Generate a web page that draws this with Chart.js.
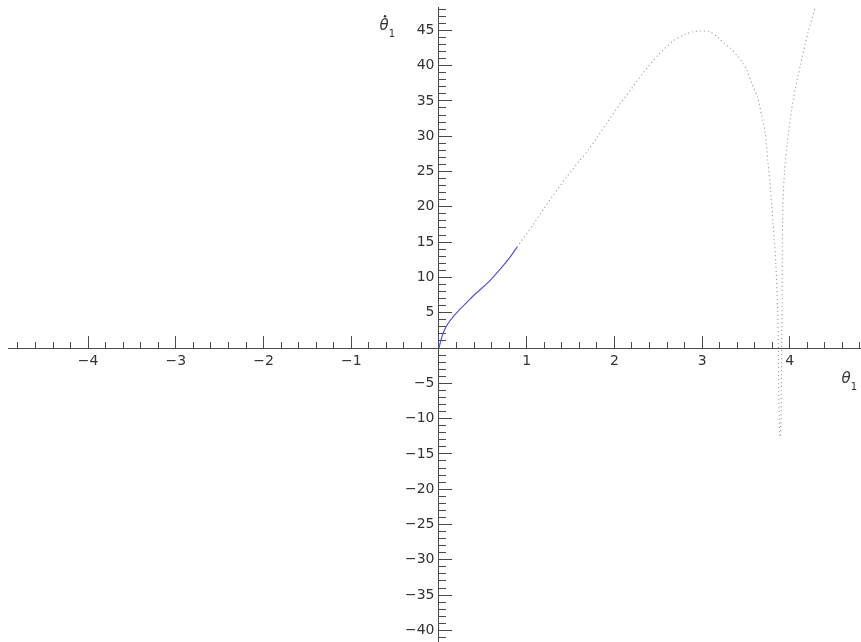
<!DOCTYPE html>
<html>
<head>
<meta charset="utf-8">
<script src="https://cdn.jsdelivr.net/npm/chart.js@4/dist/chart.umd.min.js"></script>
<style>
  html, body { margin: 0; padding: 0; background: #fff; }
  canvas { display: block; }
</style>
</head>
<body>
<canvas id="c" width="861" height="642"></canvas>
<script>
// ---- data (theta_1, theta_1 dot) ----
const blueTheta = [0, 0.02, 0.05, 0.10, 0.16, 0.24, 0.32, 0.40, 0.50, 0.60, 0.70, 0.80, 0.89];
const blueOmega = [0, 1.0, 2.2, 3.4, 4.4, 5.5, 6.5, 7.5, 8.6, 9.8, 11.2, 12.7, 14.3];

const grayTheta = [0.89, 1.00, 1.07, 1.20, 1.30, 1.45, 1.60, 1.70, 1.80, 1.91, 2.06, 2.20, 2.33, 2.50, 2.67, 2.80, 2.90, 3.00, 3.09, 3.18, 3.24, 3.32, 3.40, 3.46, 3.51, 3.57, 3.63, 3.68, 3.72, 3.75, 3.78, 3.81, 3.84, 3.86, 3.87, 3.875, 3.88, 3.89, 3.90, 3.905, 3.91, 3.915, 3.92, 3.94, 3.97, 4.02, 4.06, 4.12, 4.21, 4.29, 4.32];
const grayOmega = [14.3, 16.2, 17.4, 19.8, 21.6, 24.1, 26.5, 28.0, 29.8, 31.8, 34.5, 36.8, 39.0, 41.5, 43.5, 44.4, 44.8, 44.9, 44.8, 44.0, 43.3, 42.5, 41.4, 40.4, 39.4, 37.4, 35.6, 32.9, 30.5, 26.5, 22.5, 17.5, 12.0, 6.0, 0.0, -6.0, -10.0, -12.6, -11.0, -5.0, 3.0, 12.0, 20.0, 25.0, 29.0, 33.7, 36.5, 40.0, 44.8, 48.3, 50.0];

// ---- ticks ----
const xTickValues = [-4, -3, -2, -1, 1, 2, 3, 4];
const yTickValues = [-40, -35, -30, -25, -20, -15, -10, -5, 5, 10, 15, 20, 25, 30, 35, 40, 45];
const xMinorStep = 0.2;
const yMinorStep = 1;

// ---- axis ranges ----
const X_MIN = -4.914, X_MAX = 4.812;
const Y_MIN = -41.64, Y_MAX = 48.3;

const AXIS = '#4a4a4a';
const LABEL = '#333333';
const FONT = { family: 'DejaVu Sans', size: 14 };

const toPts = (xs, ys) => xs.map((v, i) => ({ x: v, y: ys[i] }));
const fmt = v => (v < 0 ? '\u2212' + Math.abs(v) : String(v));
const noPad = s => { s.paddingTop = 0; s.paddingBottom = 0; s.paddingLeft = 0; s.paddingRight = 0; };

const axisTitles = {
  id: 'axisTitles',
  afterDraw(chart) {
    const { ctx } = chart;
    const xs = chart.scales.x, ys = chart.scales.y;
    const ax = xs.getPixelForValue(0), ay = ys.getPixelForValue(0);
    const drawSym = (cx, cy, dot) => {
      ctx.save();
      ctx.fillStyle = LABEL;
      ctx.textBaseline = 'middle';
      ctx.textAlign = 'center';
      ctx.font = 'italic 15px "DejaVu Sans"';
      ctx.fillText('\u03b8', cx, cy);
      ctx.font = '10px "DejaVu Sans"';
      ctx.fillText('1', cx + 8, cy + 8);
      if (dot) {
        ctx.beginPath();
        ctx.arc(cx + 1, cy - 10, 1.2, 0, Math.PI * 2);
        ctx.fill();
      }
      ctx.restore();
    };
    drawSym(ax - 55, ys.getPixelForValue(45) - 4, true);
    drawSym(xs.right - 15, ay + 31, false);
  }
};

new Chart(document.getElementById('c'), {
  type: 'scatter',
  data: {
    datasets: [
      {
        label: 'gray',
        data: toPts(grayTheta, grayOmega),
        showLine: true,
        borderColor: '#a0a0a0',
        borderWidth: 1.1,
        borderDash: [1.2, 2.8],
        pointRadius: 0,
        tension: 0.25,
        order: 2
      },
      {
        label: 'blue',
        data: toPts(blueTheta, blueOmega),
        showLine: true,
        borderColor: '#5555cc',
        borderWidth: 1.2,
        pointRadius: 0,
        tension: 0.3,
        order: 1
      }
    ]
  },
  options: {
    responsive: false,
    animation: false,
    devicePixelRatio: 1,
    layout: { padding: { left: 8, top: 7, right: 0, bottom: 0 } },
    plugins: { legend: { display: false }, tooltip: { enabled: false } },
    scales: {
      x: {
        type: 'linear',
        position: { y: 0 },
        min: X_MIN, max: X_MAX,
        afterBuildTicks: s => { s.ticks = xTickValues.map(v => ({ value: v })); },
        afterFit: noPad,
        grid: { drawOnChartArea: false, drawTicks: true, tickLength: -13, color: AXIS, lineWidth: 1 },
        border: { display: true, color: AXIS, width: 1 },
        ticks: { callback: v => fmt(v), color: LABEL, font: FONT, padding: 18, maxRotation: 0, autoSkip: false }
      },
      xm: {
        type: 'linear', axis: 'x',
        position: { y: 0 },
        min: X_MIN, max: X_MAX,
        afterFit: noPad,
        grid: { drawOnChartArea: false, drawTicks: true, tickLength: -6, color: AXIS, lineWidth: 1 },
        border: { display: false },
        ticks: { stepSize: xMinorStep, includeBounds: false, display: false, autoSkip: false }
      },
      y: {
        type: 'linear',
        position: { x: 0 },
        min: Y_MIN, max: Y_MAX,
        afterBuildTicks: s => { s.ticks = yTickValues.map(v => ({ value: v })); },
        afterFit: noPad,
        grid: { drawOnChartArea: false, drawTicks: true, tickLength: -14, color: AXIS, lineWidth: 1 },
        border: { display: true, color: AXIS, width: 1 },
        ticks: { callback: v => fmt(v) + ' ', color: LABEL, font: FONT, autoSkip: false }
      },
      ym: {
        type: 'linear', axis: 'y',
        position: { x: 0 },
        min: Y_MIN, max: Y_MAX,
        afterFit: noPad,
        grid: { drawOnChartArea: false, drawTicks: true, tickLength: -7, color: AXIS, lineWidth: 1 },
        border: { display: false },
        ticks: { stepSize: yMinorStep, includeBounds: false, display: false, autoSkip: false }
      }
    }
  },
  plugins: [axisTitles]
});
</script>
</body>
</html>
